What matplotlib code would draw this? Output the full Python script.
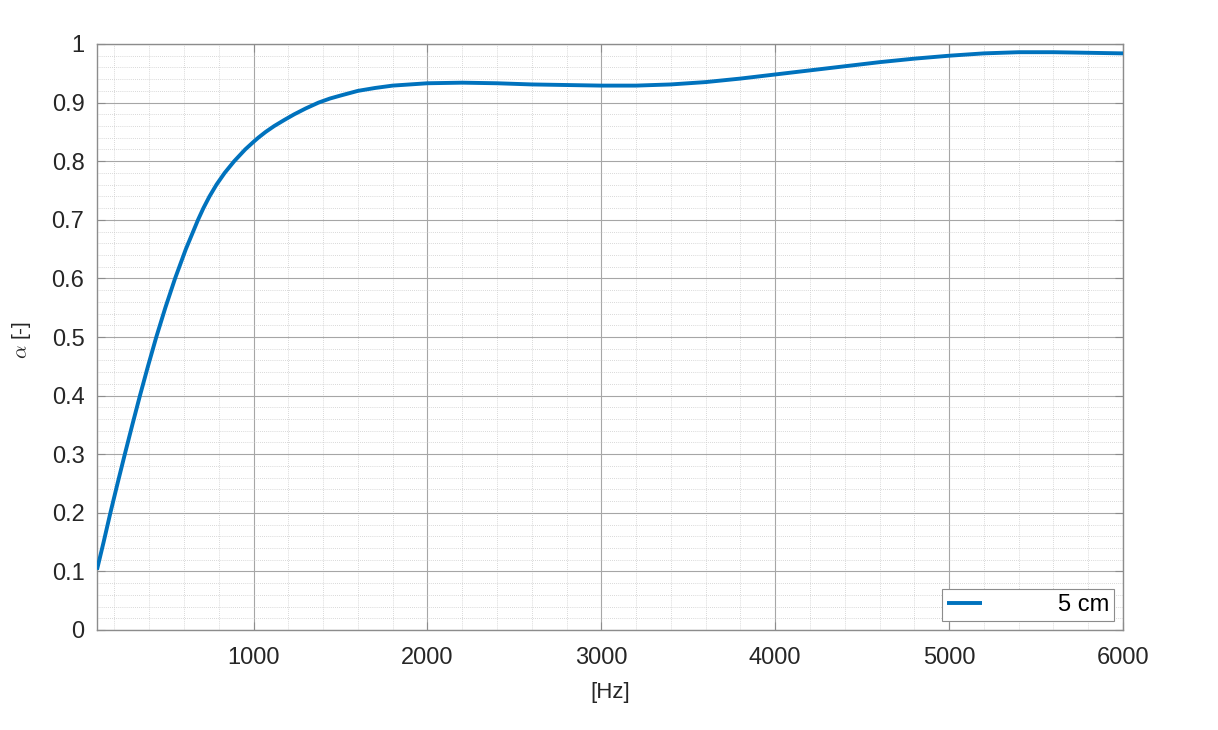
import matplotlib
matplotlib.use("Agg")
import matplotlib.pyplot as plt
from matplotlib.ticker import MultipleLocator, FuncFormatter

plt.rcParams['font.family'] = ['Liberation Sans', 'DejaVu Sans']
plt.rcParams['mathtext.fontset'] = 'cm'

freq_hz = [100, 138, 177, 218, 260, 303, 347, 393, 441, 493, 549, 611, 681, 712, 747,
           787, 834, 889, 952, 1000, 1027, 1070, 1119, 1175, 1234, 1300, 1374, 1440,
           1500, 1600, 1700, 1800, 1900, 2000, 2200, 2400, 2600, 2800, 3000, 3200, 3400,
           3600, 3800, 4000, 4200, 4400, 4600, 4800, 5000, 5200, 5400, 5600, 5800, 6000]
alpha = [0.103, 0.150, 0.200, 0.250, 0.300, 0.350, 0.400, 0.450, 0.500, 0.550, 0.600,
         0.650, 0.700, 0.720, 0.740, 0.760, 0.780, 0.800, 0.820, 0.833, 0.840, 0.850,
         0.860, 0.870, 0.880, 0.890, 0.900, 0.907, 0.912, 0.920, 0.925, 0.929, 0.931,
         0.933, 0.934, 0.933, 0.931, 0.930, 0.929, 0.929, 0.931, 0.935, 0.941, 0.948,
         0.955, 0.962, 0.969, 0.975, 0.980, 0.984, 0.986, 0.986, 0.985, 0.984]
series_label = "5 cm"
x_ticks = [1000, 2000, 3000, 4000, 5000, 6000]
y_ticks = [0, 0.1, 0.2, 0.3, 0.4, 0.5, 0.6, 0.7, 0.8, 0.9, 1.0]

fig = plt.figure(figsize=(12.18, 7.30), dpi=100)
ax = fig.add_axes([97/1218, 100/730, (1123-97)/1218, (630-44)/730])

ax.plot(freq_hz, alpha, color='#0072BD', lw=2.8, label=series_label, zorder=3,
        solid_joinstyle='round', solid_capstyle='butt')

ax.set_xlim(100, 6000)
ax.set_ylim(0, 1)
ax.set_xticks(x_ticks)
ax.set_yticks(y_ticks)
ax.xaxis.set_minor_locator(MultipleLocator(200))
ax.yaxis.set_minor_locator(MultipleLocator(0.02))
ax.yaxis.set_major_formatter(FuncFormatter(lambda v, p: f"{v:g}"))

ax.grid(which='major', color='#a6a6a6', lw=0.8, ls='-')
ax.grid(which='minor', color='#cccccc', lw=0.6, ls=(0, (1, 1.5)))
ax.set_axisbelow(True)

for s in ax.spines.values():
    s.set_color('#8c8c8c')
    s.set_linewidth(1.0)

ax.tick_params(which='major', direction='in', length=6, width=0.8, color='#8c8c8c',
               labelsize=17, labelcolor='#262626', pad=9, top=True, right=True)
ax.tick_params(axis='x', which='major', pad=12)
ax.tick_params(which='minor', direction='in', length=0)

ax.set_xlabel('[Hz]', fontsize=16, color='#262626')
ax.xaxis.set_label_coords(0.5, -(682 - 630) / 586)
ax.set_ylabel(r'$\alpha$ [-]', fontsize=15, color='#262626')
ax.yaxis.set_label_coords(-(97 - 33) / 1026, (630 - 340) / 586)

leg = ax.legend(loc='lower right', fontsize=17, handlelength=1.5, handletextpad=3.2,
                borderaxespad=0.4, fancybox=False, framealpha=1, edgecolor='#8c8c8c',
                borderpad=0.2)
leg.get_frame().set_linewidth(0.8)

fig.savefig('out.png', dpi=100, facecolor='white')
